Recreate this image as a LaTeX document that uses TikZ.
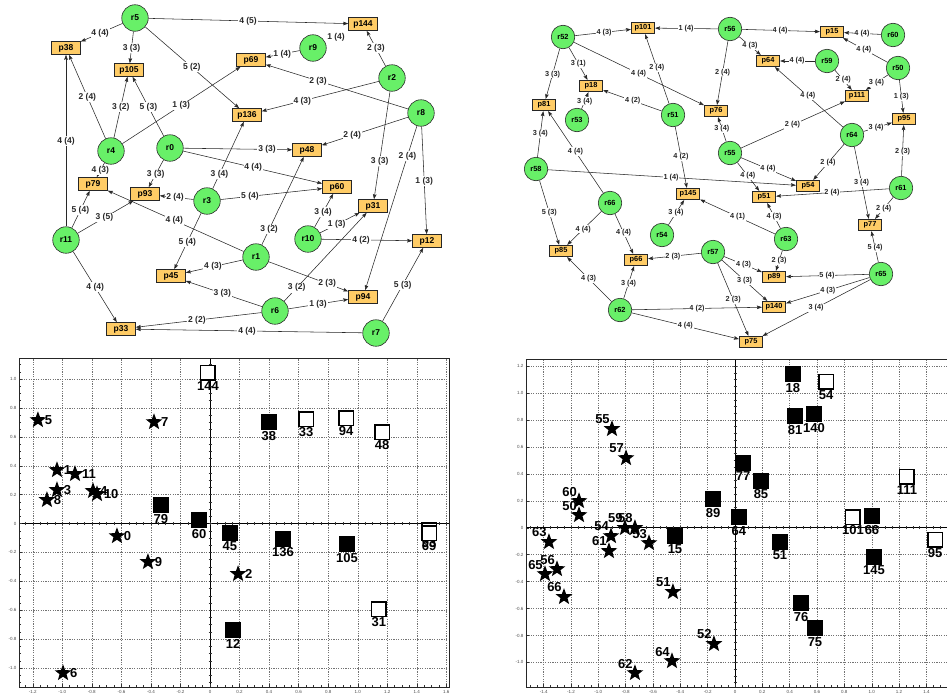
\documentclass[tikz,border=0pt]{standalone}
\usepackage{fontspec}
\setmainfont{Liberation Sans}
\usetikzlibrary{arrows.meta,calc,shapes.geometric}
\pgfdeclarelayer{bg}
\pgfsetlayers{bg,main}
\definecolor{rgreen}{RGB}{104,240,104}
\definecolor{porange}{RGB}{255,204,102}
\definecolor{lnk}{RGB}{40,40,40}
\newcounter{ec}
\newcommand\edL[4]{\stepcounter{ec}%
 \begin{pgfonlayer}{bg}\draw[edge] (#1) -- (#2);\end{pgfonlayer}%
 \node[elab] (e\arabic{ec}) at ($(#1)!(#3)!(#2)$) {#4};}
\newcommand\edR[4]{\stepcounter{ec}%
 \begin{pgfonlayer}{bg}\draw[edge] (#1) -- (#2);\end{pgfonlayer}%
 \node[elabs] (e\arabic{ec}) at ($(#1)!(#3)!(#2)$) {#4};}
\newcommand\lst[4]{\node[stark] (a#1) at (#2,#3) {};\node[slab,anchor=west,xshift=6pt] (al#1) at (a#1.center) {#1};}
\newcommand\lsq[4]{\node[#4] (c#1) at (#2,#3) {};\node[slab,anchor=north] (cl#1) at (c#1.south) {#1};}
\newcommand\rst[3]{\node[slab,xshift=-9.5pt,yshift=9.5pt] (bl#1) at (#2,#3) {#1};\node[stark] (b#1) at (#2,#3) {};}
\newcommand\rsq[4]{\node[#4] (d#1) at (#2,#3) {};\node[slab,anchor=north] (dl#1) at (d#1.south) {#1};}
\tikzset{
 rn/.style={circle, draw=black!85, fill=rgreen, line width=0.6pt, minimum size=26.5pt, inner sep=0pt, font=\fontsize{8.5}{10}\selectfont\bfseries},
 pn/.style={rectangle, draw=black!85, fill=porange, line width=0.6pt, minimum width=29pt, minimum height=13pt, inner sep=0pt, font=\fontsize{8.5}{10}\selectfont\bfseries},
 rs/.style={rn, minimum size=23.5pt, font=\fontsize{7.4}{9}\selectfont\bfseries},
 ps/.style={pn, minimum width=23.5pt, minimum height=11.5pt, font=\fontsize{7.4}{9}\selectfont\bfseries},
 edge/.style={draw=lnk, line width=0.55pt, -{Stealth[length=5pt,width=3.6pt,inset=0.8pt]}},
 elab/.style={fill=white, inner sep=0.8pt, text=lnk, font=\fontsize{8.5}{10}\selectfont\bfseries},
 elabs/.style={elab, font=\fontsize{7.3}{9}\selectfont\bfseries},
 gridl/.style={draw=black!55, line width=0.4pt, dash pattern=on 1.2pt off 1.2pt},
 frm/.style={draw=black!85, line width=0.8pt},
 axl/.style={draw=black, line width=0.8pt},
 tk/.style={draw=black!80, line width=0.4pt},
 tlab/.style={font=\fontsize{4.5}{5}\selectfont, text=black!70, inner sep=0.5pt},
 stark/.style={star, star points=5, star point ratio=2.4, minimum size=17.5pt, inner sep=0pt, fill=black},
 sqf/.style={rectangle, minimum size=15.5pt, inner sep=0pt, fill=black},
 sqo/.style={rectangle, minimum size=14.3pt, inner sep=0pt, draw=black, line width=1.3pt, fill=white},
 slab/.style={font=\fontsize{13}{14}\selectfont\bfseries, inner sep=0.8pt},
}
\begin{document}
\begin{tikzpicture}[x=1pt, y=-1pt]
\useasboundingbox (0,0) rectangle (947,696);
% ---------------- top-left graph ----------------
\node[rn] (r5) at (135,18) {r5};
\node[pn] (p38) at (66,48) {p38};
\node[pn] (p105) at (129,70) {p105};
\node[rn] (r4) at (111,151) {r4};
\node[rn] (r0) at (170,148) {r0};
\node[pn] (p144) at (363,24) {p144};
\node[rn] (r9) at (313,48) {r9};
\node[pn] (p69) at (251,60) {p69};
\node[rn] (r2) at (392,78) {r2};
\node[pn] (p136) at (247,115) {p136};
\node[rn] (r8) at (421,113) {r8};
\node[pn] (p48) at (307,150) {p48};
\node[pn] (p79) at (93,184) {p79};
\node[pn] (p93) at (145,194) {p93};
\node[rn] (r3) at (207,201) {r3};
\node[rn] (r11) at (66,240) {r11};
\node[pn] (p45) at (171,276) {p45};
\node[pn] (p33) at (121,329) {p33};
\node[pn] (p60) at (337,187) {p60};
\node[pn] (p31) at (373,206) {p31};
\node[rn] (r10) at (308,239) {r10};
\node[pn] (p12) at (427,241) {p12};
\node[rn] (r1) at (256,257) {r1};
\node[pn] (p94) at (363,297) {p94};
\node[rn] (r6) at (275,311) {r6};
\node[rn] (r7) at (376,333) {r7};
\edL{r5}{p38}{100,33}{4 (4)}
\edL{r5}{p105}{131,48}{3 (3)}
\edL{r5}{p136}{192,67}{5 (2)}
\edL{r5}{p144}{248,22}{4 (5)}
\edL{r4}{p38}{87,97}{2 (4)}
\edL{r4}{p105}{120,107}{3 (2)}
\edL{r0}{p105}{148,107}{5 (3)}
\edL{r4}{p69}{181,105}{1 (3)}
\edL{r11}{p38}{65,141}{4 (4)}
\edL{r4}{p79}{99,170}{4 (3)}
\edL{r0}{p93}{155,174}{3 (3)}
\edL{r3}{p136}{219,174}{3 (4)}
\edL{r0}{p48}{267,150}{3 (3)}
\edL{r0}{p60}{253,168}{4 (4)}
\edL{r9}{p69}{282,53}{1 (4)}
\edL{r2}{p144}{374,49}{2 (3)}
\edL{r8}{p69}{318,81}{2 (3)}
\edL{r2}{p136}{302,100}{4 (3)}
\edL{r8}{p48}{352,135}{2 (4)}
\edL{r2}{p31}{379,161}{3 (3)}
\edL{r8}{p94}{407,156}{2 (4)}
\edL{r8}{p12}{423,181}{1 (3)}
\edL{r11}{p79}{80,210}{5 (4)}
\edL{r11}{p93}{104,217}{3 (5)}
\edL{r3}{p93}{175,198}{2 (4)}
\edL{r1}{p79}{174,221}{4 (4)}
\edL{r3}{p45}{187,242}{5 (4)}
\edL{r1}{p45}{213,267}{4 (3)}
\edL{r6}{p45}{222,294}{3 (3)}
\edL{r6}{p33}{197,321}{2 (2)}
\edL{r7}{p33}{247,332}{4 (4)}
\edL{r11}{p33}{94,288}{4 (4)}
\edL{r3}{p60}{250,197}{5 (4)}
\edL{r1}{p48}{268,229}{3 (2)}
\edL{r10}{p60}{323,212}{3 (4)}
\edL{r10}{p31}{337,225}{1 (3)}
\edL{r10}{p12}{361,240}{4 (2)}
\edL{r1}{p94}{327,284}{2 (3)}
\edL{r6}{p31}{297,288}{3 (2)}
\edL{r6}{p94}{318,304}{1 (3)}
\edL{r7}{p12}{403,285}{5 (3)}
\node[elab] (r9lab) at (336,37) {1 (4)};
% ---------------- top-right graph ----------------
\node[rs] (r52) at (563,37) {r52};
\node[ps] (p101) at (643,28) {p101};
\node[rs] (r56) at (730,29) {r56};
\node[ps] (p15) at (832,32) {p15};
\node[rs] (r60) at (893,35) {r60};
\node[ps] (p18) at (591,86) {p18};
\node[ps] (p81) at (544,105) {p81};
\node[rs] (r53) at (577,120) {r53};
\node[rs] (r51) at (673,115) {r51};
\node[ps] (p76) at (716,111) {p76};
\node[ps] (p64) at (768,61) {p64};
\node[rs] (r59) at (827,61) {r59};
\node[rs] (r50) at (898,68) {r50};
\node[ps] (p111) at (857,96) {p111};
\node[ps] (p95) at (904,119) {p95};
\node[rs] (r64) at (852,135) {r64};
\node[rs] (r55) at (730,153) {r55};
\node[rs] (r58) at (536,169) {r58};
\node[ps] (p145) at (688,194) {p145};
\node[rs] (r66) at (610,203) {r66};
\node[rs] (r54) at (662,235) {r54};
\node[ps] (p85) at (561,251) {p85};
\node[ps] (p66) at (636,260) {p66};
\node[rs] (r57) at (713,252) {r57};
\node[rs] (r62) at (620,310) {r62};
\node[ps] (p54) at (808,186) {p54};
\node[ps] (p51) at (764,197) {p51};
\node[rs] (r61) at (901,188) {r61};
\node[ps] (p77) at (870,225) {p77};
\node[rs] (r63) at (786,239) {r63};
\node[rs] (r65) at (881,274) {r65};
\node[ps] (p89) at (774,277) {p89};
\node[ps] (p140) at (774,307) {p140};
\node[ps] (p75) at (751,342) {p75};
\edR{r52}{p101}{604,32}{4 (3)}
\edR{r56}{p101}{686,28}{1 (4)}
\edR{r52}{p81}{552,74}{3 (3)}
\edR{r52}{p18}{578,64}{3 (1)}
\edR{r52}{p76}{638,75}{4 (4)}
\edR{r51}{p101}{657,68}{2 (4)}
\edR{r56}{p76}{721,72}{2 (4)}
\edR{r53}{p18}{584,101}{3 (4)}
\edR{r51}{p18}{633,100}{4 (2)}
\edR{r55}{p76}{721,129}{3 (4)}
\edR{r58}{p81}{540,134}{3 (4)}
\edR{r66}{p81}{575,152}{4 (4)}
\edR{r51}{p145}{680,157}{4 (2)}
\edR{r58}{p54}{671,178}{1 (4)}
\edR{r56}{p15}{780,31}{4 (4)}
\edR{r60}{p15}{862,33}{4 (4)}
\edR{r56}{p64}{749,47}{4 (3)}
\edR{r59}{p64}{797,62}{4 (4)}
\edR{r50}{p15}{863,51}{4 (4)}
\edR{r59}{p111}{842,81}{2 (4)}
\edR{r50}{p111}{876,82}{3 (4)}
\edR{r64}{p64}{807,97}{4 (4)}
\edR{r50}{p95}{900,97}{1 (3)}
\edR{r55}{p111}{792,124}{2 (4)}
\edR{r64}{p95}{876,127}{3 (4)}
\edR{r61}{p95}{902,152}{2 (3)}
\edR{r64}{p54}{827,162}{2 (4)}
\edR{r55}{p54}{768,169}{4 (4)}
\edR{r55}{p51}{748,176}{4 (4)}
\edR{r64}{p77}{860,183}{3 (4)}
\edR{r61}{p51}{832,193}{2 (4)}
\edR{r61}{p77}{883,208}{2 (4)}
\edR{r63}{p51}{773,217}{4 (3)}
\edR{r63}{p145}{737,218}{4 (1)}
\edR{r65}{p77}{874,248}{5 (4)}
\edR{r63}{p89}{779,261}{2 (3)}
\edR{r57}{p89}{743,266}{4 (3)}
\edR{r65}{p89}{827,277}{5 (4)}
\edR{r57}{p140}{744,281}{3 (3)}
\edR{r65}{p140}{828,291}{4 (3)}
\edR{r57}{p75}{733,300}{2 (3)}
\edR{r65}{p75}{816,308}{3 (4)}
\edR{r62}{p140}{697,309}{4 (2)}
\edR{r62}{p75}{685,327}{4 (4)}
\edR{r58}{p85}{548,213}{5 (3)}
\edR{r66}{p85}{583,229}{4 (4)}
\edR{r66}{p66}{623,233}{4 (4)}
\edR{r54}{p145}{676,213}{3 (4)}
\edR{r57}{p66}{673,257}{2 (3)}
\edR{r62}{p85}{588,279}{4 (3)}
\edR{r62}{p66}{628,283}{3 (4)}
% ---------------- bottom-left plot ----------------
\begin{scope}[shift={(210,523.5)}, x=147.7pt, y=144.5pt]
 \foreach \v in {-1.2,-1,-0.8,-0.6,-0.4,-0.2,0.2,0.4,0.6,0.8,1,1.2,1.4,1.6} \draw[gridl] (\v,-1.131) -- (\v,1.145);
 \foreach \v in {-1,-0.8,-0.6,-0.4,-0.2,0.2,0.4,0.6,0.8,1} \draw[gridl] (-1.293,\v) -- (1.618,\v);
 \draw[axl] (0,-1.131) -- (0,1.145);
 \draw[axl] (-1.293,0) -- (1.618,0);
 \foreach \k in {-22,...,22} \draw[tk] (0,\k*0.05) ++(-1.5pt,0pt) -- ++(3pt,0pt);
 \foreach \k in {-25,...,32} \draw[tk] (\k*0.05,0) ++(0pt,-1.5pt) -- ++(0pt,3pt);
 \foreach \k in {-22,...,22} \draw[tk] (-1.293,\k*0.05) -- ++(1.5pt,0pt);
 \foreach \k in {-25,...,32} \draw[tk] (\k*0.05,-1.131) -- ++(0pt,1.5pt);
 \foreach \v in {-1,-0.8,-0.6,-0.4,-0.2,0,0.2,0.4,0.6,0.8,1} \draw[tk] (-1.293,\v) -- ++(3pt,0pt);
 \foreach \v in {-1.2,-1,-0.8,-0.6,-0.4,-0.2,0,0.2,0.4,0.6,0.8,1,1.2,1.4,1.6} \draw[tk] (\v,-1.131) -- ++(0pt,3pt);
 \draw[frm] (-1.293,-1.131) rectangle (1.618,1.145);
 \foreach \v/\t [count=\i] in {-1.2/-1.2,-1/-1.0,-0.8/-0.8,-0.6/-0.6,-0.4/-0.4,-0.2/-0.2,0/0,0.2/0.2,0.4/0.4,0.6/0.6,0.8/0.8,1/1.0,1.2/1.2,1.4/1.4,1.6/1.6}
   \node[tlab,anchor=north,yshift=-2.5pt] (lx\i) at (\v,-1.131) {\t};
 \foreach \v/\t [count=\i] in {-1/-1.0,-0.8/-0.8,-0.6/-0.6,-0.4/-0.4,-0.2/-0.2,0/0,0.2/0.2,0.4/0.4,0.6/0.6,0.8/0.8,1/1.0}
   \node[tlab,anchor=east,xshift=-2pt] (ly\i) at (-1.293,\v) {\t};
 \lsq{79}{-0.332}{0.128}{sqf}
 \lsq{60}{-0.074}{0.024}{sqf}
 \lsq{45}{0.135}{-0.066}{sqf}
 \lsq{136}{0.494}{-0.107}{sqf}
 \lsq{105}{0.928}{-0.142}{sqf}
 \lsq{12}{0.156}{-0.737}{sqf}
 \lsq{38}{0.399}{0.702}{sqf}
 \lsq{144}{-0.014}{1.042}{sqo}
 \lsq{33}{0.650}{0.723}{sqo}
 \lsq{94}{0.921}{0.730}{sqo}
 \lsq{48}{1.165}{0.633}{sqo}
 \lsq{31}{1.144}{-0.592}{sqo}
 \lsq{93}{1.483}{-0.045}{sqo}
 \lsq{69}{1.483}{-0.066}{sqo}
 \lst{5}{-1.165}{0.716}{}
 \lst{7}{-0.379}{0.702}{}
 \lst{1}{-1.036}{0.370}{}
 \lst{11}{-0.914}{0.343}{}
 \lst{3}{-1.036}{0.232}{}
 \lst{8}{-1.104}{0.163}{}
 \lst{4}{-0.792}{0.225}{}
 \lst{10}{-0.765}{0.204}{}
 \lst{0}{-0.630}{-0.087}{}
 \lst{9}{-0.420}{-0.266}{}
 \lst{2}{0.190}{-0.349}{}
 \lst{6}{-0.995}{-1.035}{}
\end{scope}
% ---------------- bottom-right plot ----------------
\begin{scope}[shift={(735,527.7)}, x=136.7pt, y=134.7pt]
 \clip (-1.7,-1.35) rectangle (1.5505,1.3);
 \foreach \v in {-1.4,-1.2,-1,-0.8,-0.6,-0.4,-0.2,0.2,0.4,0.6,0.8,1,1.2,1.4} \draw[gridl] (\v,-1.182) -- (\v,1.253);
 \foreach \v in {-1,-0.8,-0.6,-0.4,-0.2,0.2,0.4,0.6,0.8,1,1.2} \draw[gridl] (-1.529,\v) -- (1.6,\v);
 \draw[axl] (0,-1.182) -- (0,1.253);
 \draw[axl] (-1.529,0) -- (1.6,0);
 \foreach \k in {-23,...,25} \draw[tk] (0,\k*0.05) ++(-1.5pt,0pt) -- ++(3pt,0pt);
 \foreach \k in {-30,...,31} \draw[tk] (\k*0.05,0) ++(0pt,-1.5pt) -- ++(0pt,3pt);
 \foreach \k in {-23,...,25} \draw[tk] (-1.529,\k*0.05) -- ++(1.5pt,0pt);
 \foreach \k in {-30,...,31} \draw[tk] (\k*0.05,-1.182) -- ++(0pt,1.5pt);
 \foreach \v in {-1,-0.8,-0.6,-0.4,-0.2,0,0.2,0.4,0.6,0.8,1,1.2} \draw[tk] (-1.529,\v) -- ++(3pt,0pt);
 \foreach \v in {-1.4,-1.2,-1,-0.8,-0.6,-0.4,-0.2,0,0.2,0.4,0.6,0.8,1,1.2,1.4} \draw[tk] (\v,-1.182) -- ++(0pt,3pt);
 \draw[frm] (-1.529,-1.182) rectangle (1.7,1.253);
 \foreach \v/\t [count=\i] in {-1.4/-1.4,-1.2/-1.2,-1/-1.0,-0.8/-0.8,-0.6/-0.6,-0.4/-0.4,-0.2/-0.2,0/0,0.2/0.2,0.4/0.4,0.6/0.6,0.8/0.8,1/1.0,1.2/1.2,1.4/1.4}
   \node[tlab,anchor=north,yshift=-2.5pt] (rx\i) at (\v,-1.182) {\t};
 \foreach \v/\t [count=\i] in {-1/-1.0,-0.8/-0.8,-0.6/-0.6,-0.4/-0.4,-0.2/-0.2,0/0,0.2/0.2,0.4/0.4,0.6/0.6,0.8/0.8,1/1.0,1.2/1.2}
   \node[tlab,anchor=east,xshift=-2pt] (ry\i) at (-1.529,\v) {\t};
 \rsq{18}{0.424}{1.141}{sqf}
 \rsq{54}{0.666}{1.082}{sqo}
 \rsq{81}{0.439}{0.829}{sqf}
 \rsq{140}{0.578}{0.844}{sqf}
 \rsq{77}{0.059}{0.480}{sqf}
 \rsq{85}{0.190}{0.347}{sqf}
 \rsq{111}{1.258}{0.377}{sqo}
 \rsq{89}{-0.161}{0.213}{sqf}
 \rsq{64}{0.029}{0.079}{sqf}
 \rsq{101}{0.863}{0.079}{sqo}
 \rsq{66}{1.002}{0.087}{sqf}
 \rsq{95}{1.463}{-0.091}{sqo}
 \rsq{15}{-0.439}{-0.062}{sqf}
 \rsq{51}{0.329}{-0.106}{sqf}
 \rsq{145}{1.017}{-0.218}{sqf}
 \rsq{76}{0.483}{-0.560}{sqf}
 \rsq{75}{0.585}{-0.746}{sqf}
 \rst{55}{-0.900}{0.733}
 \rst{57}{-0.797}{0.517}
 \rst{60}{-1.141}{0.198}
 \rst{50}{-1.141}{0.094}
 \rst{54}{-0.907}{-0.062}
 \rst{59}{-0.805}{-0.002}
 \rst{58}{-0.732}{-0.002}
 \rst{53}{-0.629}{-0.114}
 \rst{61}{-0.922}{-0.173}
 \rst{63}{-1.361}{-0.106}
 \rst{56}{-1.302}{-0.307}
 \rst{65}{-1.390}{-0.344}
 \rst{66}{-1.251}{-0.514}
 \rst{51}{-0.454}{-0.477}
 \rst{52}{-0.154}{-0.863}
 \rst{64}{-0.461}{-0.990}
 \rst{62}{-0.732}{-1.079}
\end{scope}
\end{tikzpicture}
\end{document}
